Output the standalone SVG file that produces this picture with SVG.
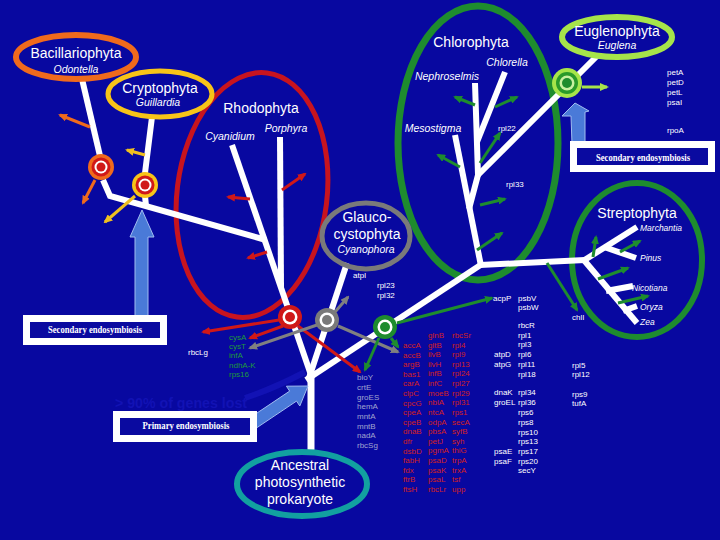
<svg xmlns="http://www.w3.org/2000/svg" width="720" height="540" viewBox="0 0 720 540">
<defs>
<style>
.t{font-family:"Liberation Sans",Arial,sans-serif;font-size:14px;fill:#fff;text-anchor:middle}
.sp{font-family:"Liberation Sans",Arial,sans-serif;font-size:10.5px;font-style:italic;fill:#fff;text-anchor:middle}
.ss{font-family:"Liberation Sans",Arial,sans-serif;font-size:8.5px;font-style:italic;fill:#fff}
.g{font-family:"Liberation Sans",Arial,sans-serif;font-size:8px;fill:#fff}
.gr{fill:#d42020}.gg{fill:#1e9a3a}.gl{fill:#a0a4d0}
.br{stroke:#fff;stroke-width:6;fill:none}
.el{fill:none}
.box{fill:#0a0aa0;stroke:#fff;stroke-width:7}
.bt{font-family:"Liberation Serif",serif;font-weight:bold;font-size:10px;fill:#fff;text-anchor:middle}
.ba{fill:#4a7ad8;stroke:#a0bcf0;stroke-width:1}
.ar{stroke-width:3;fill:none}
.ar.r{stroke:#d01818}.ar.k{stroke:#808080}.ar.gn{stroke:#1e8c2e}.ar.o{stroke:#f06a1c}.ar.y{stroke:#f0c020}.ar.lg{stroke:#a6e44a}
</style>
<marker id="mr" viewBox="0 0 9 8" refX="7" refY="4" markerWidth="9" markerHeight="8" markerUnits="userSpaceOnUse" orient="auto"><path d="M0,0L9,4L0,8z" fill="#d01818"/></marker>
<marker id="mk" viewBox="0 0 9 8" refX="7" refY="4" markerWidth="9" markerHeight="8" markerUnits="userSpaceOnUse" orient="auto"><path d="M0,0L9,4L0,8z" fill="#808080"/></marker>
<marker id="mg" viewBox="0 0 9 8" refX="7" refY="4" markerWidth="9" markerHeight="8" markerUnits="userSpaceOnUse" orient="auto"><path d="M0,0L9,4L0,8z" fill="#1e8c2e"/></marker>
<marker id="mo" viewBox="0 0 9 8" refX="7" refY="4" markerWidth="9" markerHeight="8" markerUnits="userSpaceOnUse" orient="auto"><path d="M0,0L9,4L0,8z" fill="#f06a1c"/></marker>
<marker id="my" viewBox="0 0 9 8" refX="7" refY="4" markerWidth="9" markerHeight="8" markerUnits="userSpaceOnUse" orient="auto"><path d="M0,0L9,4L0,8z" fill="#f0c020"/></marker>
<marker id="ml" viewBox="0 0 9 8" refX="7" refY="4" markerWidth="9" markerHeight="8" markerUnits="userSpaceOnUse" orient="auto"><path d="M0,0L9,4L0,8z" fill="#a6e44a"/></marker>
</defs>
<rect width="720" height="540" fill="#0808a0"/>
<path d="M245,398 Q275,388 305,372" stroke="#1212b4" stroke-width="6" fill="none"/>
<text x="115" y="408" font-family="Liberation Sans,Arial,sans-serif" font-size="14" font-weight="bold" fill="#1212b4" textLength="132" lengthAdjust="spacingAndGlyphs">&gt; 90% of genes lost</text>

<g id="clade-ellipses">
<ellipse id="rhodo-ring" class="el" cx="252" cy="195" rx="75" ry="123" transform="rotate(7 252 195)" stroke="#c8141e" stroke-width="5"/>
<ellipse id="chloro-ring" class="el" cx="478" cy="143" rx="80" ry="137" stroke="#1e8c2e" stroke-width="7"/>
<ellipse id="strepto-ring" class="el" cx="637" cy="260" rx="65" ry="77" stroke="#1e8c2e" stroke-width="6"/>
</g>

<g id="connectors">
<g class="br">
<line x1="82" y1="79" x2="100" y2="156"/>
<line x1="152" y1="117" x2="145" y2="173"/>
<polyline points="103,180 110,196 266,240"/>
<line x1="145" y1="196" x2="146" y2="206"/>
<line x1="232" y1="145" x2="312" y2="378"/>
<line x1="280" y1="137" x2="281" y2="287"/>
<line x1="347" y1="263" x2="309" y2="378"/>
<line x1="306" y1="380" x2="482" y2="264"/>
<line x1="311" y1="453" x2="311" y2="374" stroke-width="7"/>
<line x1="455" y1="135" x2="481" y2="266"/>
<polyline points="475,83 478,175 469,209"/>
<line x1="505" y1="72" x2="477" y2="142"/>
<line x1="598" y1="55" x2="478" y2="175"/>
<line x1="480" y1="265" x2="585" y2="260"/>
<line x1="583" y1="261" x2="637" y2="227"/>
<line x1="604" y1="247" x2="636" y2="258"/>
<line x1="583" y1="259" x2="637" y2="323"/>
<line x1="606" y1="291" x2="633" y2="286"/>
<line x1="623" y1="311" x2="637" y2="306"/>
</g>
<g class="ar r" marker-end="url(#mr)">
<line x1="282" y1="190" x2="305" y2="174"/>
<line x1="250" y1="199" x2="228" y2="197"/>
<line x1="267" y1="252" x2="248" y2="258"/>
<line x1="279" y1="320" x2="203" y2="332"/>
<line x1="283" y1="326" x2="250" y2="338"/>
<line x1="298" y1="326" x2="360" y2="372"/>
</g>
<g class="ar k" marker-end="url(#mk)">
<line x1="335" y1="312" x2="348" y2="297"/>
<line x1="317" y1="325" x2="250" y2="348"/>
<line x1="338" y1="326" x2="398" y2="352"/>
</g>
<g class="ar gn" marker-end="url(#mg)">
<line x1="379" y1="338" x2="365" y2="370"/>
<line x1="391" y1="338" x2="398" y2="347"/>
<line x1="397" y1="323" x2="492" y2="298"/>
<line x1="475" y1="105" x2="455" y2="97"/>
<line x1="495" y1="107" x2="517" y2="97"/>
<line x1="480" y1="163" x2="500" y2="133"/>
<line x1="460" y1="167" x2="438" y2="155"/>
<line x1="480" y1="205" x2="505" y2="199"/>
<line x1="477" y1="250" x2="502" y2="233"/>
<line x1="547" y1="263" x2="577" y2="310"/>
<line x1="593" y1="257" x2="596" y2="237"/>
<line x1="620" y1="252" x2="640" y2="241"/>
<line x1="598" y1="279" x2="628" y2="268"/>
<line x1="618" y1="303" x2="648" y2="296"/>
</g>
<g class="ar o" marker-end="url(#mo)">
<line x1="90" y1="127" x2="60" y2="115"/>
<line x1="95" y1="180" x2="83" y2="203"/>
</g>
<g class="ar y" marker-end="url(#my)">
<line x1="145" y1="155" x2="127" y2="150"/>
<line x1="135" y1="196" x2="105" y2="222"/>
</g>
<g class="ar lg" marker-end="url(#ml)">
<line x1="582" y1="87" x2="607" y2="87"/>
</g>
</g>

<g id="bacillariophyta">
<ellipse class="el" cx="76" cy="57" rx="60" ry="22" stroke="#f06a1c" stroke-width="6"/>
<text class="t" x="76" y="58">Bacillariophyta</text>
<text class="sp" x="76" y="73">Odontella</text>
</g>
<g id="cryptophyta">
<ellipse class="el" cx="160" cy="94" rx="52" ry="23" stroke="#f8c418" stroke-width="5"/>
<text class="t" x="160" y="93">Cryptophyta</text>
<text class="sp" x="158" y="106">Guillardia</text>
</g>
<g id="rhodophyta">
<text class="t" x="261" y="113">Rhodophyta</text>
<text class="sp" x="230" y="140">Cyanidium</text>
<text class="sp" x="286" y="132">Porphyra</text>
</g>
<g id="chlorophyta">
<text class="t" x="471" y="47">Chlorophyta</text>
<text class="sp" x="447" y="80">Nephroselmis</text>
<text class="sp" x="507" y="66">Chlorella</text>
<text class="sp" x="433" y="132">Mesostigma</text>
</g>
<g id="euglenophyta">
<ellipse class="el" cx="617" cy="37" rx="55" ry="20" stroke="#a6e44a" stroke-width="6"/>
<text class="t" x="617" y="36">Euglenophyta</text>
<text class="sp" x="617" y="49">Euglena</text>
</g>
<g id="glaucocystophyta">
<ellipse class="el" cx="366" cy="236" rx="44" ry="33" stroke="#7a7a7a" stroke-width="5"/>
<text class="t" x="367" y="222">Glauco-</text>
<text class="t" x="367" y="239">cystophyta</text>
<text class="sp" x="366" y="253">Cyanophora</text>
</g>
<g id="streptophyta">
<text class="t" x="637" y="218">Streptophyta</text>
<text class="ss" x="640" y="231">Marchantia</text>
<text class="ss" x="640" y="261">Pinus</text>
<text class="ss" x="632" y="291">Nicotiana</text>
<text class="ss" x="640" y="310">Oryza</text>
<text class="ss" x="640" y="325">Zea</text>
</g>
<g id="ancestor">
<ellipse class="el" cx="302" cy="484" rx="65" ry="32" stroke="#12a0a0" stroke-width="6"/>
<text class="t" x="300" y="470">Ancestral</text>
<text class="t" x="300" y="487">photosynthetic</text>
<text class="t" x="300" y="504">prokaryote</text>
</g>

<g id="plastid-bacillariophyta"><circle cx="101" cy="167" r="13" fill="#f06a1c"/><circle cx="101" cy="167" r="9.5" fill="#d01818"/><circle cx="101" cy="167" r="6.5" fill="#fff"/><circle cx="101" cy="167" r="4.5" fill="#d01818"/></g>
<g id="plastid-cryptophyta"><circle cx="145" cy="185" r="13" fill="#f8c418"/><circle cx="145" cy="185" r="9.5" fill="#d01818"/><circle cx="145" cy="185" r="6.5" fill="#fff"/><circle cx="145" cy="185" r="4.5" fill="#d01818"/></g>
<g id="plastid-rhodophyta"><circle cx="290" cy="317" r="12" fill="#d01818"/><circle cx="290" cy="317" r="7.5" fill="#fff"/><circle cx="290" cy="317" r="5" fill="#d01818"/></g>
<g id="plastid-glaucophyta"><circle cx="327" cy="320" r="12" fill="#7a7a7a"/><circle cx="327" cy="320" r="7.5" fill="#fff"/><circle cx="327" cy="320" r="5" fill="#7a7a7a"/></g>
<g id="plastid-green"><circle cx="385" cy="327" r="12" fill="#1e8c2e"/><circle cx="385" cy="327" r="7.5" fill="#fff"/><circle cx="385" cy="327" r="5" fill="#1e8c2e"/></g>
<g id="plastid-euglena"><circle cx="567" cy="83" r="15" fill="#a6e44a"/><circle cx="567" cy="83" r="11" fill="#2a9a2a"/><circle cx="567" cy="83" r="7.5" fill="#c8f0a0"/><circle cx="567" cy="83" r="5" fill="#1e8c2e"/></g>

<g id="secondary-left">
<polygon class="ba" points="142,210 154,237 148,237 148,318 135,318 135,237 130,237"/>
<rect class="box" x="26.5" y="318.5" width="137" height="23"/>
<text class="bt" x="95" y="333" textLength="94" lengthAdjust="spacingAndGlyphs">Secondary endosymbiosis</text>
</g>
<g id="secondary-right">
<polygon class="ba" points="575,103 589,111 585,112 585,144 572,144 571,116 562,116"/>
<rect class="box" x="573.5" y="144.5" width="138" height="24"/>
<text class="bt" x="643" y="161" textLength="94" lengthAdjust="spacingAndGlyphs">Secondary endosymbiosis</text>
</g>
<g id="primary">
<polygon class="ba" points="246.6,420 289.7,391.1 286.4,386.2 308,386 299.8,406 296.5,401.1 253.4,430"/>
<rect class="box" x="116.5" y="414.5" width="137" height="24"/>
<text class="bt" x="186" y="429" textLength="87" lengthAdjust="spacingAndGlyphs">Primary endosymbiosis</text>
</g>

<g id="genes">
<g class="g">
<text x="667" y="75">petA</text><text x="667" y="85">petD</text><text x="667" y="95">petL</text><text x="667" y="105">psaI</text>
<text x="667" y="133">rpoA</text>
<text x="498" y="131">rpl22</text>
<text x="506" y="187">rpl33</text>
<text x="353" y="278">atpI</text>
<text x="377" y="288">rpl23</text><text x="377" y="298">rpl32</text>
<text x="188" y="355">rbcLg</text>
<text x="493" y="301">acpP</text>
<text x="518" y="301">psbV</text><text x="518" y="310">psbW</text>
<text x="518" y="328">rbcR</text><text x="518" y="338">rpl1</text><text x="518" y="347">rpl3</text><text x="518" y="357">rpl6</text><text x="518" y="367">rpl11</text><text x="518" y="377">rpl18</text>
<text x="494" y="357">atpD</text><text x="494" y="367">atpG</text>
<text x="494" y="395">dnaK</text><text x="494" y="405">groEL</text>
<text x="518" y="395">rpl34</text><text x="518" y="405">rpl36</text><text x="518" y="415">rps6</text><text x="518" y="425">rps8</text><text x="518" y="435">rps10</text><text x="518" y="444">rps13</text><text x="518" y="454">rps17</text><text x="518" y="464">rps20</text><text x="518" y="473">secY</text>
<text x="494" y="454">psaE</text><text x="494" y="464">psaF</text>
<text x="572" y="320">chlI</text><text x="572" y="368">rpl5</text><text x="572" y="377">rpl12</text><text x="572" y="397">rps9</text><text x="572" y="406">tufA</text>
</g>
<g class="g gg">
<text x="229" y="340">cysA</text><text x="229" y="349">cysT</text><text x="229" y="358">infA</text><text x="229" y="368">ndhA-K</text><text x="229" y="377">rps16</text>
</g>
<g class="g gl">
<text x="357" y="380">bioY</text><text x="357" y="390">crtE</text><text x="357" y="400">groES</text><text x="357" y="409">hemA</text><text x="357" y="419">mntA</text><text x="357" y="429">mntB</text><text x="357" y="438">nadA</text><text x="357" y="448">rbcSg</text>
</g>
<g class="g gr">
<text x="403" y="348">accA<tspan x="403" dy="9.6">accB</tspan><tspan x="403" dy="9.6">argB</tspan><tspan x="403" dy="9.6">bas1</tspan><tspan x="403" dy="9.6">carA</tspan><tspan x="403" dy="9.6">clpC</tspan><tspan x="403" dy="9.6">cpcG</tspan><tspan x="403" dy="9.6">cpeA</tspan><tspan x="403" dy="9.6">cpeB</tspan><tspan x="403" dy="9.6">dnaB</tspan><tspan x="403" dy="9.6">dfr</tspan><tspan x="403" dy="9.6">dsbD</tspan><tspan x="403" dy="9.6">fabH</tspan><tspan x="403" dy="9.6">fdx</tspan><tspan x="403" dy="9.6">ftrB</tspan><tspan x="403" dy="9.6">ftsH</tspan></text>
<text x="428" y="338">glnB<tspan x="428" dy="9.62">gltB</tspan><tspan x="428" dy="9.62">ilvB</tspan><tspan x="428" dy="9.62">ilvH</tspan><tspan x="428" dy="9.62">infB</tspan><tspan x="428" dy="9.62">infC</tspan><tspan x="428" dy="9.62">moeB</tspan><tspan x="428" dy="9.62">nblA</tspan><tspan x="428" dy="9.62">ntcA</tspan><tspan x="428" dy="9.62">odpA</tspan><tspan x="428" dy="9.62">pbsA</tspan><tspan x="428" dy="9.62">petJ</tspan><tspan x="428" dy="9.62">pgmA</tspan><tspan x="428" dy="9.62">psaD</tspan><tspan x="428" dy="9.62">psaK</tspan><tspan x="428" dy="9.62">psaL</tspan><tspan x="428" dy="9.62">rbcLr</tspan></text>
<text x="452" y="338">rbcSr<tspan x="452" dy="9.62">rpl4</tspan><tspan x="452" dy="9.62">rpl9</tspan><tspan x="452" dy="9.62">rpl13</tspan><tspan x="452" dy="9.62">rpl24</tspan><tspan x="452" dy="9.62">rpl27</tspan><tspan x="452" dy="9.62">rpl29</tspan><tspan x="452" dy="9.62">rpl31</tspan><tspan x="452" dy="9.62">rps1</tspan><tspan x="452" dy="9.62">secA</tspan><tspan x="452" dy="9.62">syfB</tspan><tspan x="452" dy="9.62">syh</tspan><tspan x="452" dy="9.62">thiG</tspan><tspan x="452" dy="9.62">trpA</tspan><tspan x="452" dy="9.62">trxA</tspan><tspan x="452" dy="9.62">tsf</tspan><tspan x="452" dy="9.62">upp</tspan></text>
</g>
</g>
</svg>
